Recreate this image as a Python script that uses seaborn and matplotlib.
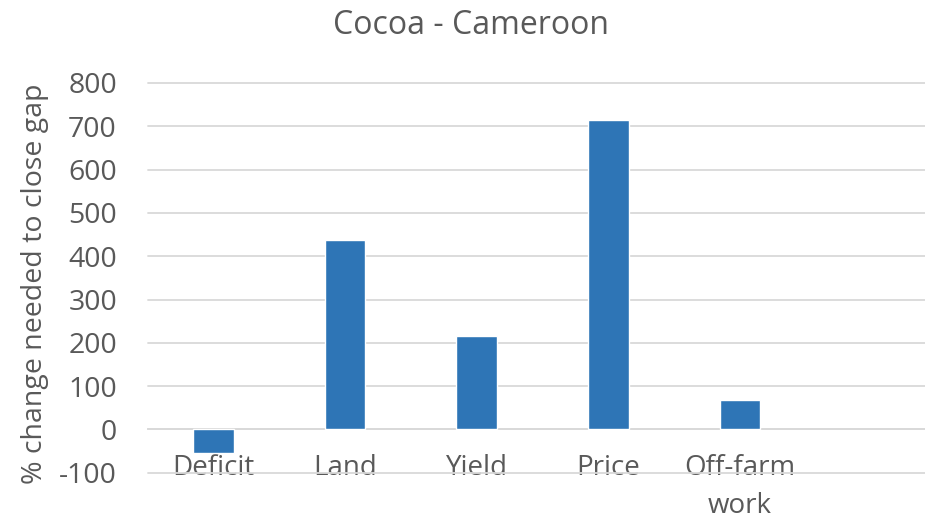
import numpy as np
import pandas as pd
import seaborn as sns
import matplotlib
import matplotlib.pyplot as plt

matplotlib.use('Agg')

# Chart data (last category is an empty slot in the original chart)
categories = ["Deficit", "Land", "Yield", "Price", "Off-farm\nwork", " "]
values = [-54, 437, 215, 714, 69, np.nan]
y_ticks = [-100, 0, 100, 200, 300, 400, 500, 600, 700, 800]

df = pd.DataFrame({"category": categories, "value": values})

sns.set_style("white")
plt.rcParams['font.family'] = ['Open Sans', 'DejaVu Sans']

text_color = "#595959"
bar_color = "#2E75B6"
grid_color = "#D9D9D9"

fig = plt.figure(figsize=(9.25, 5.22), dpi=100)
ax = fig.add_axes([0.1595, 0.0944, 0.854, 0.7466])

sns.barplot(data=df, x="category", y="value", order=categories, color=bar_color,
            width=0.31, saturation=1, ax=ax, zorder=3)

ax.set_xlim(-0.5, len(categories) - 0.5)
ax.set_ylim(-100, 800)
ax.set_yticks(y_ticks)
ax.set_yticklabels([str(v) for v in y_ticks], fontsize=20.5, color=text_color)

# gridlines
for v in y_ticks:
    ax.axhline(v, color=grid_color, linewidth=1.3, zorder=1, clip_on=False)

for s in ["top", "right", "left"]:
    ax.spines[s].set_visible(False)
ax.spines["bottom"].set_position(("data", 0))
ax.spines["bottom"].set_color(grid_color)
ax.spines["bottom"].set_linewidth(1.3)

ax.tick_params(axis="both", length=0)
ax.tick_params(axis="x", pad=18, labelsize=20, labelcolor=text_color)
ax.tick_params(axis="y", pad=22)
for lbl in ax.get_xticklabels():
    lbl.set_linespacing(1.45)
    lbl.set_verticalalignment("top")

ax.set_xlabel("")
ax.set_ylabel("% change needed to close gap", fontsize=20.5, color=text_color)
ax.yaxis.set_label_coords(-0.125, 0.485)

fig.text(0.509, 0.952, "Cocoa - Cameroon", ha="center", va="center",
         fontsize=23, color=text_color)

fig.savefig("out.png", dpi=100)
plt.close(fig)
